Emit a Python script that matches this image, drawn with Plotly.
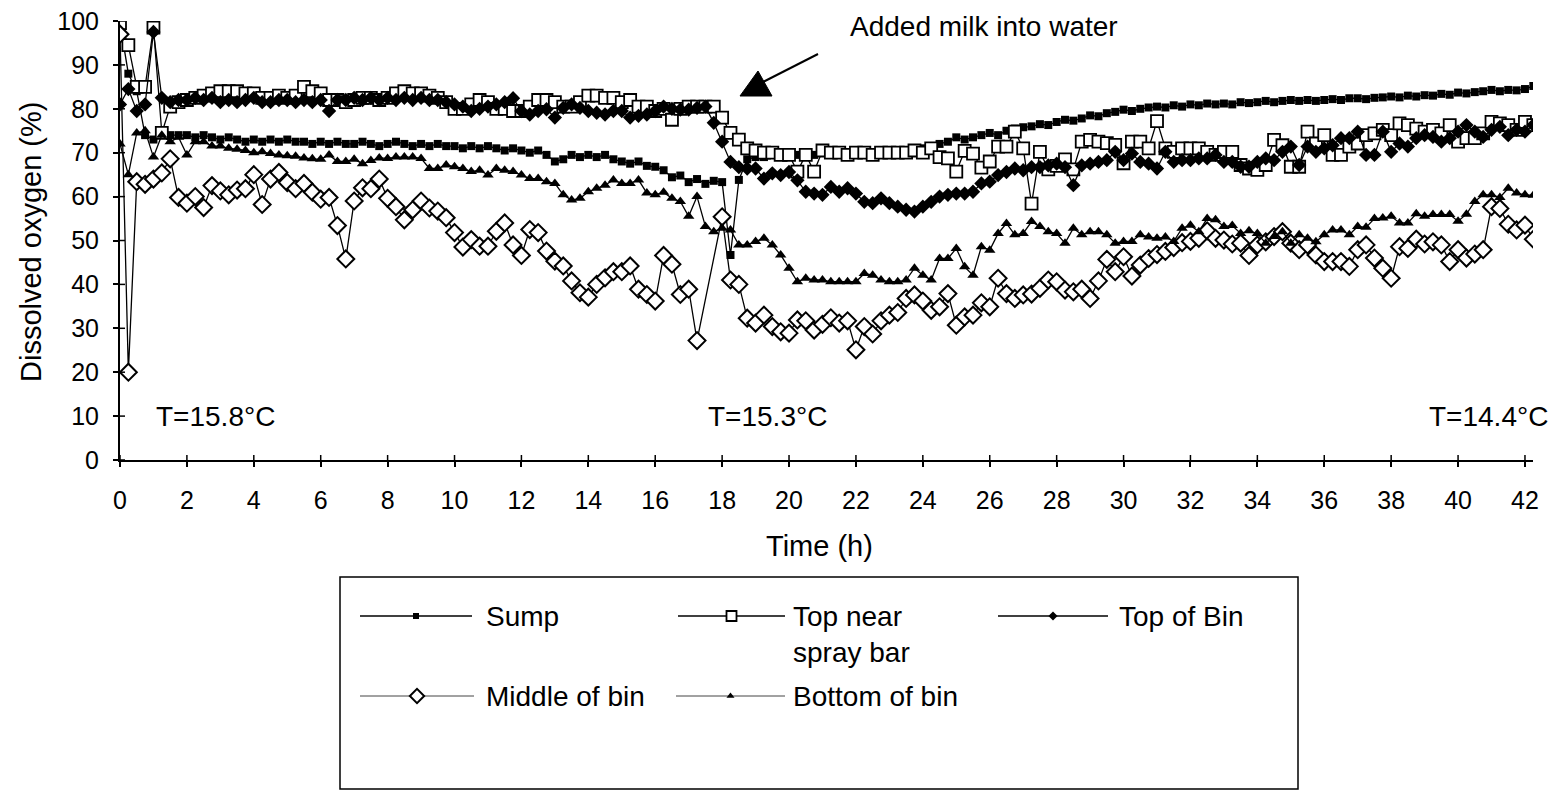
import plotly.graph_objects as go

# Dissolved oxygen logged every 15 min at five positions in the storage bin
STEP_H = 0.25

sump = [
    99.5, 88, 84, 74, 73, 75, 74, 74,
    74, 73.5, 74, 73.5, 73, 73.5, 73, 72.5,
    73, 72.5, 73, 72.5, 73, 72.5, 72.5, 72,
    72.5, 72, 72.5, 72, 72, 72.5, 72, 71.5,
    72, 72.5, 72, 71.5, 72, 71.5, 72, 71.5,
    71.5, 71, 71.5, 71, 71.5, 71, 70.5, 71,
    70.5, 70, 70.5, 69.5, 68, 68.5, 69.5, 69,
    69.5, 69, 69.5, 68.5, 68, 67.5, 68, 67,
    66.8, 66, 64.4, 64.8, 63.3, 64, 62.9, 63.6,
    63.3, 46.7, 63.8, 68.5, 69, 69, 69.5, 69,
    69.5, 69.5, 70, 69.5, 70, 70, 69.5, 70,
    70, 70.5, 70, 70.5, 70.5, 70, 70.5, 70.5,
    71, 71.5, 72, 72.5, 73.5, 73, 73.5, 74,
    74.5, 74, 75, 75.5, 75.8, 76, 76.5, 76.3,
    77, 77.5, 77.3, 77.8, 78.5, 78.3, 79, 79.3,
    79.8, 79.5, 80, 80.3, 80.5, 80.3, 80.8, 80.5,
    81, 80.8, 81.2, 81, 81.2, 81, 81.5, 81.3,
    81.5, 81.8, 81.5, 81.8, 82, 81.8, 82, 81.8,
    82, 82.2, 82, 82.4, 82.4, 82.2, 82.5, 82.6,
    82.8, 82.6, 83, 82.8, 83.1, 83, 83.4, 83.2,
    83.7, 83.5, 83.8, 84, 84.3, 84, 84.3, 84.2,
    84.5, 85.2,
]

top_near_spray_bar = [
    99.5, 94.5, 85, 85, 98.5, 74.5, 80.5, 81.5,
    82, 82.5, 83, 83.5, 84, 84, 84, 83.5,
    83.5, 82.5, 82.5, 83, 82.5, 83, 85, 84,
    83.5, 82, 82, 81.5, 82, 82.5, 82.5, 82,
    82.5, 83.5, 84, 83.5, 83.5, 83, 82.5, 81.5,
    80, 80, 81, 82, 81.5, 80, 80, 79.5,
    79.5, 80.5, 82, 82, 81.5, 80.5, 80.5, 81.5,
    83, 83, 82.5, 82.5, 81.5, 82, 80.5, 80.5,
    79.5, 80, 77.5, 80, 80.5, 80.5, 80.5, 80.5,
    78, 74.5, 73, 71, 70.5, 70, 70, 69.5,
    69.5, 65.7, 69.5, 65.7, 70.5, 70, 70, 69.5,
    70, 70, 69.5, 70, 70, 70, 70, 70.5,
    70, 71, 69, 68.7, 65.7, 70.4, 69.8, 66.6,
    68, 71.4, 71.4, 74.8, 71, 58.4, 70.2, 66.2,
    67, 68.5, 66.2, 72.5, 72.9, 72.5, 72.2, 71.8,
    67.6, 72.5, 72.5, 71, 77.2, 71, 70.2, 71,
    71, 71, 70.2, 69.5, 70.2, 70.2, 67.2, 66.4,
    66.1, 67.2, 72.9, 71.7, 66.8, 66.8, 74.8, 72.1,
    74.0, 69.5, 69.5, 71.4, 72.1, 74.0, 74.4, 75.2,
    74.0, 76.7, 76.3, 75.5, 74.8, 75.2, 74.4, 76.3,
    72.5, 73.3, 73.3, 74.4, 77.0, 76.7, 76.3, 75.2,
    77.0, 76.3,
]

top_of_bin = [
    81, 84.5, 79.5, 81, 97.5, 82.5, 81.5, 82,
    82, 82.5, 82, 82.5, 81.5, 82, 81.5, 82,
    82.5, 81.5, 81.5, 82, 82, 81.5, 82, 81.5,
    82, 79.5, 82, 82, 82.5, 82, 82.5, 82,
    82.5, 82, 82.5, 82, 82.5, 82, 82, 81.5,
    81, 80.5, 79.5, 80, 80.5, 81, 81.5, 82.4,
    79.5, 78.7, 79.5, 79.9, 78, 80.2, 81, 80.2,
    79.5, 79.1, 78.7, 79.5, 79.5, 78, 78.4, 78.7,
    79.5, 80.5, 80, 79.8, 79.8, 80.2, 80.5, 76.8,
    72.5, 67.9, 66.7, 66.4, 66.4, 64.1, 65.3, 64.9,
    65.6, 63.7, 61.1, 60.7, 60.4, 62.2, 61.1, 61.9,
    60.7, 58.8, 58.5, 59.6, 58.5, 57.7, 57, 56.6,
    57.7, 58.8, 60, 60.4, 60.7, 60.7, 61.1, 63,
    63.4, 64.9, 65.6, 66.4, 66, 66.7, 66.7, 67.1,
    67.5, 66.7, 62.6, 67.1, 67.5, 67.9, 68.3, 70.2,
    68.3, 69.8, 67.9, 67.5, 66.4, 70.2, 67.9, 68.3,
    68.3, 68.7, 68.7, 69.5, 67.9, 67.9, 66.8, 66.8,
    67.9, 68.7, 68.3, 70.2, 71.4, 67.2, 71.4, 70.2,
    71.0, 71.7, 73.3, 73.3, 74.8, 69.5, 69.5, 74.8,
    70.2, 72.1, 71.4, 73.3, 74.0, 73.6, 72.5, 73.3,
    74.8, 76.3, 74.8, 73.6, 75.2, 75.9, 74.0, 75.2,
    74.8, 76.3,
]

# two readings missing at 17.5 h and 17.75 h
middle_of_bin = [
    97, 20, 63.4, 62.8, 64, 65.4, 68.6, 59.8,
    58.5, 60, 57.5, 62.5, 61.3, 60.4, 61.5, 61.8,
    65, 58.2, 64, 65.5, 63.2, 61.8, 63, 61,
    59.4, 59.8, 53.4, 45.8, 59, 62, 61.8, 64,
    59.6, 57.7, 54.7, 57, 59, 57.4, 56.7, 55.2,
    51.8, 48.5, 50.2, 48.7, 48.7, 52.1, 54, 49,
    46.6, 52.5, 51.8, 47.6, 45.3, 44.2, 40.8, 38.1,
    37.1, 40, 41.5, 42.9, 42.9, 44.2, 38.9, 37.7,
    36.2, 46.6, 44.6, 37.7, 38.9, 27.2, None, None,
    55.4, 41, 40, 32.3, 31.2, 33, 30.4, 29.2,
    28.9, 31.9, 31.7, 29.6, 30.9, 32.4, 31.2, 31.7,
    25.1, 30.4, 28.7, 31.7, 33, 33.6, 36.8, 37.6,
    36.2, 34.1, 34.9, 37.9, 30.7, 32.6, 33, 35.8,
    34.9, 41.4, 37.9, 36.8, 37.6, 37.8, 39.1, 41,
    40.6, 38.7, 38.3, 38.9, 36.8, 40.8, 45.7, 42.9,
    46.3, 41.9, 44.4, 45.9, 46.8, 47.5, 48.4, 49.5,
    49.8, 50.5, 52.2, 50.5, 50.1, 49.2, 49.4, 46.6,
    49.0, 49.7, 50.9, 52.0, 49.4, 47.9, 49.0, 46.7,
    45.2, 45.2, 45.2, 44.1, 47.9, 49.0, 46.0, 43.7,
    41.4, 48.6, 48.2, 50.3, 49.2, 49.7, 49.0, 45.2,
    47.9, 46.0, 46.9, 47.9, 57.7, 57.3, 53.7, 52.4,
    53.5, 50.3,
]

bottom_of_bin = [
    72, 65, 74.5, 75, 69, 74, 72.5, 73.5,
    69.5, 72.5, 72.5, 71.5, 71.5, 71, 70.8, 70.5,
    70, 70.2, 69.8, 69.5, 69.3, 69.2, 68.8, 68.6,
    68.5, 69.5, 68, 68, 68.5, 67.5, 68.2, 68.8,
    68.7, 69, 69, 69, 68.7, 66.4, 66.4, 67.2,
    66.8, 66.4, 65.7, 66, 64.9, 66.4, 66, 65.7,
    64.9, 64.1, 64.1, 63.4, 63, 60.4, 59.2, 59.6,
    61.1, 61.9, 62.6, 63.8, 63, 63, 63.8, 60.8,
    60.4, 61, 59.6, 58.9, 55.5, 60, 53.2, 52,
    52.8, 52.4, 49, 49, 49.8, 50.5, 49, 46.7,
    43.7, 40.6, 41.4, 41, 41, 40.6, 40.6, 40.6,
    40.6, 42.5, 42.1, 41, 40.6, 40.6, 41, 43.7,
    42.1, 41, 45.9, 45.9, 48.2, 44, 42.1, 48.6,
    47.8, 51.6, 53.9, 51.3, 51.6, 54.3, 53.2, 52,
    51.6, 49.4, 52.8, 51.3, 52, 52, 51.3, 49.4,
    49.8, 49.8, 51.3, 50.8, 50.5, 50.8, 49.8, 52.8,
    53.5, 52, 55, 54.7, 53.2, 53.4, 51.6, 52.2,
    51.6, 49.4, 50.9, 52.0, 49.4, 51.3, 50.5, 49.7,
    51.3, 52.4, 52.4, 51.3, 53.2, 53.0, 55.0, 55.1,
    55.5, 54.0, 54.0, 56.1, 55.5, 55.9, 55.9, 55.9,
    54.4, 56.0, 58.9, 60.4, 60.4, 59.8, 61.9, 60.8,
    60.4, 60.3,
]

series_names = ["Sump", "Top near spray bar", "Top of Bin", "Middle of bin", "Bottom of bin"]
series_values = [sump, top_near_spray_bar, top_of_bin, middle_of_bin, bottom_of_bin]

x_ticks = list(range(0, 43, 2))
y_ticks = list(range(0, 101, 10))

temperature_notes = [(2.84, 10, "T=15.8°C"), (19.37, 10, "T=15.3°C"), (40.9, 10, "T=14.4°C")]

# ---- styling ----
W, H = 1562, 792
FONT = "Liberation Sans, Arial, sans-serif"
BLACK = "#000000"
TEXT_SIZE = 28
TICK_SIZE = 25

# plot area in page pixels
P_LEFT, P_RIGHT, P_TOP, P_BOTTOM = 120, 1533, 21, 460
X_MAX = 42.24


def fx(px):
    return px / W


def fy(py):
    return 1 - py / H


marker_styles = {
    "Sump": dict(symbol="square", size=8, color=BLACK, line=dict(width=0)),
    "Top near spray bar": dict(symbol="square", size=12, color="white", line=dict(color=BLACK, width=1.8)),
    "Top of Bin": dict(symbol="diamond", size=11, color=BLACK, line=dict(width=0)),
    "Middle of bin": dict(symbol="diamond", size=13, color="white", line=dict(color=BLACK, width=2)),
    "Bottom of bin": dict(symbol="triangle-up", size=10, color=BLACK, line=dict(width=0)),
}
legend_marker_sizes = {"Sump": 6, "Top near spray bar": 10, "Top of Bin": 7,
                       "Middle of bin": 11, "Bottom of bin": 7}

fig = go.Figure()

for name, vals in zip(series_names, series_values):
    t = [i * STEP_H for i in range(len(vals))]
    fig.add_trace(go.Scatter(
        x=t, y=vals, mode="lines+markers", name=name,
        connectgaps=True,
        line=dict(color=BLACK, width=1.3),
        marker=marker_styles[name],
        showlegend=False, xaxis="x", yaxis="y",
    ))

# legend samples drawn on a hidden page-pixel axis pair
legend_items = [
    # name, line x0, line x1, text x, row y, line colour/width
    ("Sump", 360, 472, 484, 616, BLACK, 1.5),
    ("Top near spray bar", 678, 785, 791, 616, BLACK, 1.5),
    ("Top of Bin", 998, 1108, 1117, 616, BLACK, 1.5),
    ("Middle of bin", 360, 474, 484, 696, "#444444", 1.0),
    ("Bottom of bin", 676, 785, 791, 696, "#444444", 1.0),
]
legend_labels = {"Top near spray bar": "Top near<br>spray bar"}

annotations = []
for name, x0, x1, tx, ry, lc, lw in legend_items:
    fig.add_trace(go.Scatter(
        x=[x0, x1], y=[ry, ry], mode="lines",
        line=dict(color=lc, width=lw), showlegend=False,
        xaxis="x2", yaxis="y2", hoverinfo="skip",
    ))
    m = dict(marker_styles[name])
    m["size"] = legend_marker_sizes[name]
    fig.add_trace(go.Scatter(
        x=[(x0 + x1) / 2], y=[ry], mode="markers", marker=m,
        showlegend=False, xaxis="x2", yaxis="y2", hoverinfo="skip",
    ))
    label = legend_labels.get(name, name)
    annotations.append(dict(
        x=fx(tx), y=fy(ry - 17), xref="paper", yref="paper",
        xanchor="left", yanchor="top", align="left",
        text=label, showarrow=False,
        font=dict(family=FONT, size=TEXT_SIZE, color=BLACK),
    ))

for tx, ty, txt in temperature_notes:
    annotations.append(dict(
        x=tx, y=ty, xref="x", yref="y", text=txt, showarrow=False,
        xanchor="center", yanchor="middle",
        font=dict(family=FONT, size=TEXT_SIZE, color=BLACK),
    ))

annotations.append(dict(
    x=fx(848), y=fy(26), xref="paper", yref="paper", text="Added milk into water",
    showarrow=False, xanchor="left", yanchor="middle",
    font=dict(family=FONT, size=TEXT_SIZE, color=BLACK),
))
annotations.append(dict(
    x=fx(819), y=fy(546), xref="paper", yref="paper", text="Time (h)",
    showarrow=False, xanchor="center", yanchor="middle",
    font=dict(family=FONT, size=TEXT_SIZE + 1, color=BLACK),
))
annotations.append(dict(
    x=fx(31), y=fy(242), xref="paper", yref="paper", text="Dissolved oxygen (%)",
    showarrow=False, xanchor="center", yanchor="middle", textangle=-90,
    font=dict(family=FONT, size=TEXT_SIZE + 1, color=BLACK),
))

shapes = [
    # legend frame
    dict(type="rect", xref="paper", yref="paper",
         x0=fx(340), x1=fx(1298), y0=fy(577), y1=fy(789),
         line=dict(color=BLACK, width=1.5), fillcolor="rgba(0,0,0,0)"),
    # pointer to the milk addition
    dict(type="line", xref="paper", yref="paper",
         x0=fx(818), y0=fy(54), x1=fx(763), y1=fy(82),
         line=dict(color=BLACK, width=2)),
    dict(type="path", xref="paper", yref="paper",
         path=f"M {fx(740)},{fy(96)} L {fx(772)},{fy(96)} L {fx(758)},{fy(71)} Z",
         fillcolor=BLACK, line=dict(color=BLACK, width=1)),
]

# inner halves of the cross-shaped tick marks (5 px each)
tick_px = 5
dy = tick_px * 100 / (P_BOTTOM - P_TOP)
dx = tick_px * X_MAX / (P_RIGHT - P_LEFT)
for xv in x_ticks:
    shapes.append(dict(type="line", xref="x", yref="y", x0=xv, x1=xv, y0=0, y1=dy,
                       line=dict(color=BLACK, width=1.5)))
for yv in y_ticks:
    shapes.append(dict(type="line", xref="x", yref="y", x0=0, x1=dx, y0=yv, y1=yv,
                       line=dict(color=BLACK, width=1.5)))

axis_font = dict(family=FONT, size=TICK_SIZE, color=BLACK)

fig.update_layout(
    width=W, height=H,
    margin=dict(l=0, r=0, t=0, b=0),
    paper_bgcolor="white", plot_bgcolor="rgba(0,0,0,0)",
    showlegend=False,
    xaxis=dict(
        domain=[fx(P_LEFT), fx(P_RIGHT)], range=[0, X_MAX], tickvals=x_ticks,
        ticks="outside", ticklen=tick_px, tickwidth=1.5, tickcolor=BLACK,
        showline=True, linecolor=BLACK, linewidth=2,
        showgrid=False, zeroline=False, tickfont=axis_font, ticklabelstandoff=12,
        automargin=False, anchor="y",
    ),
    yaxis=dict(
        domain=[fy(P_BOTTOM), fy(P_TOP)], range=[0, 100], tickvals=y_ticks,
        ticks="outside", ticklen=tick_px, tickwidth=1.5, tickcolor=BLACK,
        showline=True, linecolor=BLACK, linewidth=2,
        showgrid=False, zeroline=False, tickfont=axis_font, ticklabelstandoff=9,
        automargin=False, anchor="x",
    ),
    xaxis2=dict(domain=[0, 1], range=[0, W], visible=False, anchor="y2", fixedrange=True),
    yaxis2=dict(domain=[0, 1], range=[H, 0], visible=False, anchor="x2", fixedrange=True),
    annotations=annotations,
    shapes=shapes,
)

fig.write_html("out.html")
